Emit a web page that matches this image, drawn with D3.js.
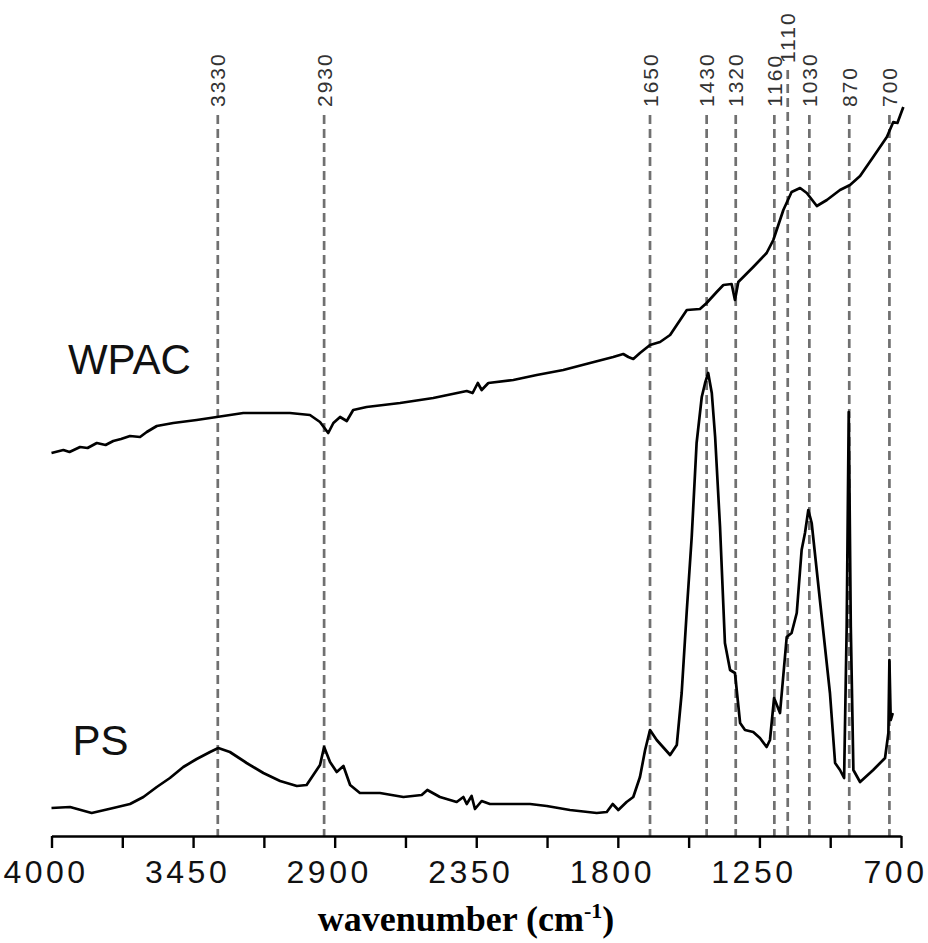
<!DOCTYPE html>
<html>
<head>
<meta charset="utf-8">
<script src="https://cdn.jsdelivr.net/npm/d3@7/dist/d3.min.js"></script>
<style>
  body { margin: 0; background: #fff; }
  .axis-label { font-family: 'Liberation Sans', sans-serif; font-size: 32px; letter-spacing: 3.5px; fill: #111; }
  .peak-label { font-family: 'Liberation Sans', sans-serif; font-size: 21px; letter-spacing: 2px; fill: #333; }
  .series-name { font-family: 'Liberation Sans', sans-serif; font-size: 42px; fill: #111; }
  .axis-title { font-family: 'Liberation Serif', serif; font-size: 36px; font-weight: bold; }
</style>
</head>
<body>
<svg id="chart" width="928" height="943"></svg>
<script>
// FTIR spectra (signal is in arbitrary units)
const wpacWavenumber = [4000, 3954, 3930, 3889, 3860, 3824, 3790, 3760, 3730, 3695, 3656, 3630, 3591, 3527,
  3436, 3358, 3255, 3177, 3074, 2996, 2957, 2925, 2905, 2879, 2853, 2828, 2776, 2646, 2517, 2387, 2364, 2344,
  2329, 2303, 2206, 2115, 2012, 1908, 1818, 1779, 1759, 1740, 1714, 1675, 1636, 1597, 1532, 1481, 1455, 1416,
  1390, 1358, 1345, 1332, 1274, 1222, 1196, 1157, 1125, 1092, 1066, 1027, 988, 937, 898, 859, 808, 755, 730,
  714, 691];
const wpacSignal = [383, 386, 384, 389, 388, 393, 391, 395, 397, 400, 399, 404, 410, 413,
  416, 419, 423, 423, 423, 421, 414, 403, 413, 419, 415, 426, 429, 433, 438, 445, 443, 453,
  446, 453, 456, 461, 466, 473, 479, 482, 479, 477, 483, 491, 494, 501, 526, 527, 533, 544,
  551, 552, 536, 554, 569, 583, 596, 626, 644, 648, 643, 630, 636, 646, 651, 660, 679, 699, 714,
  713, 729];

const psWavenumber = [4000, 3928, 3844, 3760, 3695, 3643, 3591, 3540, 3488, 3436, 3384, 3352, 3307, 3242,
  3177, 3112, 3047, 3009, 2983, 2957, 2941, 2918, 2892, 2866, 2840, 2802, 2724, 2633, 2562, 2540, 2491, 2426,
  2400, 2387, 2368, 2355, 2329, 2297, 2141, 2076, 1986, 1882, 1843, 1820, 1798, 1766, 1740, 1714, 1694, 1675,
  1649, 1597, 1571, 1552, 1532, 1513, 1494, 1474, 1461, 1449, 1435, 1422, 1403, 1384, 1364, 1345, 1325, 1306,
  1274, 1248, 1222, 1209, 1193, 1170, 1144, 1125, 1105, 1086, 1073, 1060, 1047, 1015, 976, 956, 937, 921,
  911, 903, 895, 885, 859, 808, 762, 749, 745, 740, 732];
const psSignal = [28, 29, 23, 28, 32, 39, 49, 58, 69, 77, 84, 88, 84, 73,
  63, 55, 50, 51, 61, 71, 89, 74, 64, 70, 51, 43, 43, 39, 41, 46, 39, 34,
  39, 32, 40, 27, 35, 32, 32, 30, 26, 23, 24, 32, 26, 34, 39, 59, 86, 106,
  96, 81, 91, 143, 226, 299, 393, 439, 453, 463, 443, 399, 309, 193, 166, 163, 113, 106,
  104, 98, 89, 96, 138, 123, 199, 203, 223, 286, 303, 326, 313, 236, 143, 73, 66, 58,
  209, 424, 209, 66, 54, 66, 78, 103, 176, 116, 123];

const seriesNames = ['WPAC', 'PS'];
const seriesLabelAt = [[3936, 462], [3918, 81]];

// band labels and where their guide lines sit on the picture
const peakLabels = ['3330', '2930', '1650', '1430', '1320', '1160', '1110', '1030', '870', '700'];
const peakPositions = [3354, 2941, 1675, 1455, 1342, 1192, 1140, 1056, 901, 745];
const RAISED_LABEL = '1110';

const tickValues = [4000, 3725, 3450, 3175, 2900, 2625, 2350, 2075, 1800, 1525, 1250, 975, 700];
const tickLabels = ['4000', '', '3450', '', '2900', '', '2350', '', '1800', '', '1250', '', '700'];

const AXIS_Y_PX = 836;
const LABEL_BOTTOM_PX = 107;
const LABEL_BOTTOM_RAISED_PX = 63;
const LINE_TOP_PX = 115;
const LINE_TOP_RAISED_PX = 70;

const svg = d3.select('#chart');
svg.append('rect').attr('width', 928).attr('height', 943).attr('fill', '#fff');

const x = d3.scaleLinear().domain([4000, 700]).range([51.5, 901]);
const y = d3.scaleLinear().domain([0, 740]).range([AXIS_Y_PX, 96]);

// dashed guide lines
const peaks = svg.append('g').selectAll('g')
  .data(peakLabels.map((label, i) => ({ label, pos: peakPositions[i] })))
  .join('g');

peaks.append('line')
  .attr('x1', d => x(d.pos))
  .attr('x2', d => x(d.pos))
  .attr('y1', d => d.label === RAISED_LABEL ? LINE_TOP_RAISED_PX : LINE_TOP_PX)
  .attr('y2', AXIS_Y_PX)
  .attr('stroke', '#707070')
  .attr('stroke-width', 2.7)
  .attr('stroke-dasharray', '9,5');

peaks.append('text')
  .attr('class', 'peak-label')
  .attr('transform', d => {
    const yb = d.label === RAISED_LABEL ? LABEL_BOTTOM_RAISED_PX : LABEL_BOTTOM_PX;
    return `translate(${x(d.pos)},${yb}) rotate(-90)`;
  })
  .attr('dy', '0.36em')
  .text(d => d.label);

// spectra
const line = d3.line()
  .x(d => x(d[0]))
  .y(d => y(d[1]));

svg.append('path')
  .datum(wpacWavenumber.map((w, i) => [w, wpacSignal[i]]))
  .attr('d', line)
  .attr('fill', 'none')
  .attr('stroke', '#000')
  .attr('stroke-width', 2.7)
  .attr('stroke-linejoin', 'round');

svg.append('path')
  .datum(psWavenumber.map((w, i) => [w, psSignal[i]]))
  .attr('d', line)
  .attr('fill', 'none')
  .attr('stroke', '#000')
  .attr('stroke-width', 2.7)
  .attr('stroke-linejoin', 'round');

svg.append('g').selectAll('text')
  .data(seriesNames)
  .join('text')
  .attr('class', 'series-name')
  .attr('x', (d, i) => x(seriesLabelAt[i][0]))
  .attr('y', (d, i) => y(seriesLabelAt[i][1]))
  .text(d => d);

// x axis
const xAxis = d3.axisBottom(x)
  .tickValues(tickValues)
  .tickFormat((d, i) => tickLabels[i])
  .tickSize(12)
  .tickSizeOuter(0)
  .tickPadding(12);

const axisG = svg.append('g')
  .attr('transform', `translate(0,${AXIS_Y_PX})`)
  .call(xAxis);

axisG.select('.domain').attr('stroke', '#000').attr('stroke-width', 2.6);
axisG.selectAll('.tick line').attr('stroke', '#000').attr('stroke-width', 2.4);
axisG.selectAll('.tick text')
  .attr('class', 'axis-label')
  .attr('dx', -6);

const title = svg.append('text')
  .attr('class', 'axis-title')
  .attr('x', 466)
  .attr('y', 931)
  .attr('text-anchor', 'middle');
title.append('tspan').text('wavenumber (cm');
title.append('tspan').attr('dy', -13).attr('font-size', 22).text('-1');
title.append('tspan').attr('dy', 13).text(')');
</script>
</body>
</html>
